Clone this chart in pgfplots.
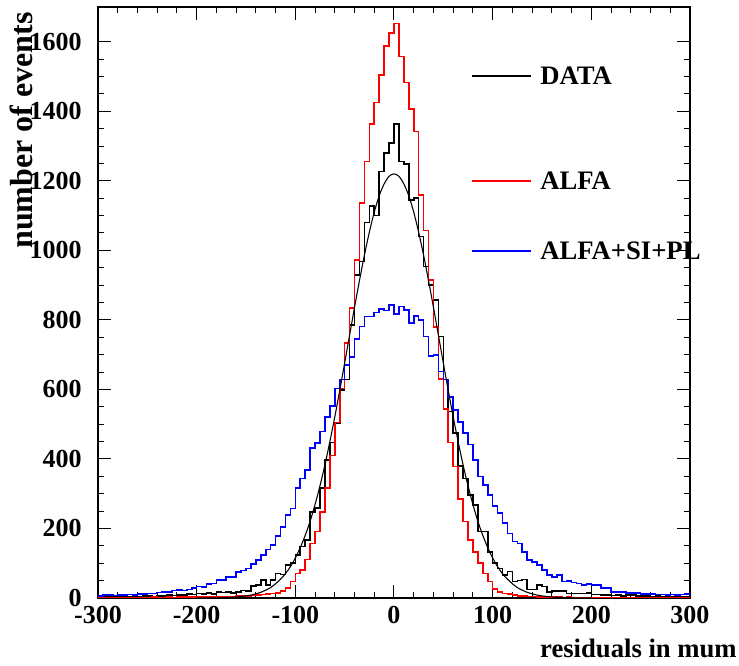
\documentclass[border=0pt]{standalone}
\usepackage{fontspec}
\setmainfont{Liberation Serif}
\usepackage{pgfplots}
\pgfplotsset{compat=1.18}
\begin{document}
\begin{tikzpicture}
\useasboundingbox (-73.5pt,-51pt) rectangle (480.75pt,448.5pt);
\begin{axis}[
 scale only axis, width=444pt, height=443.25pt,
 clip mode=individual,
 xmin=-300, xmax=300, ymin=0, ymax=1700,
 xtick={-300,-200,...,300}, xticklabels={-300,-200,-100,0,100,200,300},
 ytick={0,200,...,1600}, yticklabels={0,200,400,600,800,1000,1200,1400,1600},
 minor x tick num=4, minor y tick num=3,
 tick align=inside, tick pos=both,
 major tick length=9.75pt, minor tick length=4.5pt,
 every tick/.style={black, line width=0.75pt},
 axis line style={line width=0.9pt},
 xticklabel style={font=\fontsize{19.5}{20}\selectfont\bfseries, anchor=north, inner sep=0pt, yshift=-6pt},
 yticklabel style={font=\fontsize{19.5}{20}\selectfont\bfseries, anchor=east, inner sep=0pt, xshift=-12pt},
]
% DATA histogram
\addplot[const plot, black, line width=1.2pt] coordinates {
(-300,2)(-295,5)(-290,5)(-285,3)(-280,4)(-275,4)(-270,3)(-265,6)(-260,4)(-255,5)
(-250,6)(-245,4)(-240,6)(-235,5)(-230,8)(-225,7)(-220,9)(-215,8)(-210,12)(-205,10)
(-200,13)(-195,11)(-190,14)(-185,12)(-180,18)(-175,16)(-170,18)(-165,15)(-160,18)(-155,22)
(-150,20)(-145,34)(-140,37)(-135,52)(-130,38)(-125,52)(-120,70)(-115,68)(-110,95)(-105,100)
(-100,124)(-95,148)(-90,167)(-85,248)(-80,259)(-75,316)(-70,397)(-65,447)(-60,503)(-55,599)
(-50,629)(-45,786)(-40,929)(-35,968)(-30,1080)(-25,1128)(-20,1100)(-15,1227)(-10,1280)(-5,1309)
(0,1364)(5,1255)(10,1249)(15,1145)(20,1150)(25,1040)(30,953)(35,901)(40,858)(45,752)
(50,629)(55,536)(60,474)(65,380)(70,344)(75,296)(80,268)(85,191)(90,191)(95,133)
(100,100)(105,85)(110,66)(115,76)(120,47)(125,50)(130,53)(135,25)(140,25)(145,38)
(150,33)(155,18)(160,20)(165,20)(170,20)(175,13)(180,13)(185,13)(190,13)(195,15)
(200,10)(205,10)(210,8)(215,9)(220,7)(225,8)(230,6)(235,8)(240,9)(245,6)
(250,5)(255,6)(260,4)(265,5)(270,4)(275,3)(280,4)(285,3)(290,2)(295,3)(300,3)};
% ALFA histogram
\addplot[const plot, red, line width=1.2pt] coordinates {
(-300,0)(-295,1)(-290,0)(-285,1)(-280,0)(-275,1)(-270,1)(-265,0)(-260,1)(-255,1)
(-250,1)(-245,2)(-240,1)(-235,1)(-230,2)(-225,1)(-220,2)(-215,2)(-210,2)(-205,3)
(-200,2)(-195,3)(-190,3)(-185,2)(-180,3)(-175,4)(-170,3)(-165,4)(-160,5)(-155,5)
(-150,6)(-145,7)(-140,8)(-135,10)(-130,11)(-125,13)(-120,15)(-115,20)(-110,28)(-105,47)
(-100,71)(-95,81)(-90,111)(-85,157)(-80,191)(-75,248)(-70,316)(-65,410)(-60,505)(-55,603)
(-50,733)(-45,835)(-40,973)(-35,1137)(-30,1256)(-25,1363)(-20,1425)(-15,1505)(-10,1588)(-5,1625)
(0,1652)(5,1558)(10,1483)(15,1406)(20,1342)(25,1160)(30,1057)(35,915)(40,779)(45,630)
(50,543)(55,447)(60,378)(65,284)(70,220)(75,167)(80,133)(85,100)(90,71)(95,47)
(100,26)(105,18)(110,13)(115,11)(120,8)(125,6)(130,5)(135,4)(140,4)(145,3)
(150,3)(155,2)(160,2)(165,2)(170,1)(175,2)(180,1)(185,1)(190,1)(195,1)
(200,1)(205,0)(210,1)(215,0)(220,1)(225,0)(230,0)(235,1)(240,0)(245,0)
(250,0)(255,1)(260,0)(265,0)(270,0)(275,0)(280,1)(285,0)(290,0)(295,0)(300,0)};
% ALFA+SI+PL histogram
\addplot[const plot, blue, line width=1.2pt] coordinates {
(-300,6)(-295,8)(-290,8)(-285,7)(-280,9)(-275,8)(-270,10)(-265,9)(-260,11)(-255,12)
(-250,13)(-245,13)(-240,16)(-235,18)(-230,18)(-225,21)(-220,23)(-215,22)(-210,25)(-205,28)
(-200,33)(-195,31)(-190,40)(-185,42)(-180,52)(-175,52)(-170,61)(-165,61)(-160,74)(-155,79)
(-150,85)(-145,98)(-140,109)(-135,124)(-130,140)(-125,153)(-120,178)(-115,205)(-110,239)(-105,258)
(-100,316)(-95,344)(-90,368)(-85,431)(-80,445)(-75,479)(-70,520)(-65,553)(-60,603)(-55,629)
(-50,670)(-45,693)(-40,745)(-35,781)(-30,810)(-25,810)(-20,821)(-15,831)(-10,827)(-5,843)
(0,817)(5,838)(10,829)(15,791)(20,812)(25,800)(30,752)(35,696)(40,699)(45,651)
(50,629)(55,578)(60,541)(65,507)(70,474)(75,442)(80,397)(85,349)(90,325)(95,296)
(100,265)(105,244)(110,215)(115,186)(120,162)(125,157)(130,133)(135,109)(140,104)(145,95)
(150,81)(155,66)(160,61)(165,66)(170,47)(175,49)(180,45)(185,42)(190,37)(195,40)
(200,37)(205,37)(210,28)(215,28)(220,18)(225,18)(230,18)(235,15)(240,15)(245,15)
(250,12)(255,12)(260,11)(265,10)(270,10)(275,9)(280,10)(285,9)(290,10)(295,12)(300,12)};
% Gaussian fit to DATA
\addplot[black, line width=0.8pt, smooth] coordinates {
(-200,0.1)(-190,0.2)(-180,0.5)(-170,1.3)(-160,2.9)(-150,6.0)(-145,8.5)(-140,11.9)(-135,16.5)(-130,22.5)
(-125,30)(-120,41)(-115,54)(-110,70)(-105,90)(-100,115)(-95,145)(-90,180)(-85,221)(-80,269)
(-75,323)(-70,383)(-65,450)(-60,521)(-55,597)(-50,676)(-45,756)(-40,836)(-35,913)(-30,986)
(-25,1052)(-20,1110)(-15,1157)(-10,1191)(-5,1213)(0,1220)(5,1213)(10,1191)(15,1157)(20,1110)
(25,1052)(30,986)(35,913)(40,836)(45,756)(50,676)(55,597)(60,521)(65,450)(70,383)
(75,323)(80,269)(85,221)(90,180)(95,145)(100,115)(105,90)(110,70)(115,54)(120,41)
(125,30)(130,22.5)(135,16.5)(140,11.9)(145,8.5)(150,6.0)(160,2.9)(170,1.3)(180,0.5)(190,0.2)(200,0.1)};
% legend
\draw[black, line width=1.2pt] (rel axis cs:0.631,0.883) -- (rel axis cs:0.732,0.883);
\draw[red, line width=1.2pt] (rel axis cs:0.631,0.706) -- (rel axis cs:0.732,0.706);
\draw[blue, line width=1.2pt] (rel axis cs:0.631,0.587) -- (rel axis cs:0.732,0.587);
\node[anchor=west, inner sep=0pt, font=\fontsize{20}{22}\selectfont\bfseries] at (rel axis cs:0.7466,0.883) {DATA};
\node[anchor=west, inner sep=0pt, font=\fontsize{20}{22}\selectfont\bfseries] at (rel axis cs:0.7466,0.706) {ALFA};
\node[anchor=west, inner sep=0pt, font=\fontsize{20}{22}\selectfont\bfseries] at (rel axis cs:0.7466,0.587) {ALFA+SI+PL};
% axis titles
\node[xshift=35.25pt, yshift=-45pt, anchor=base east, inner sep=0pt, font=\fontsize{20}{22}\selectfont\bfseries] at (rel axis cs:1,0) {residuals in mum};
\node[xshift=-48.75pt, yshift=-3.75pt, rotate=90, anchor=base east, inner sep=0pt, font=\fontsize{24}{26}\selectfont\bfseries] at (rel axis cs:0,1) {number of events};
\end{axis}
\end{tikzpicture}
\end{document}
